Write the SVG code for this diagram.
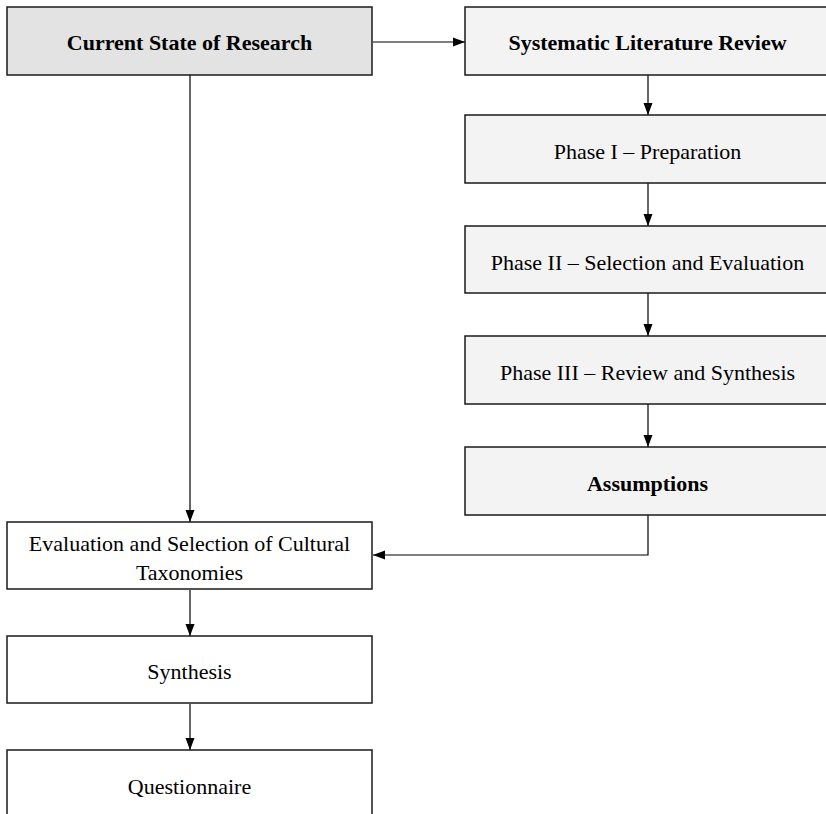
<svg xmlns="http://www.w3.org/2000/svg" width="826" height="814" viewBox="0 0 826 814">
<style>
.box{stroke:#1a1a1a;stroke-width:1.5}
.g1{fill:#e3e3e3}
.g2{fill:#f3f3f3}
.w{fill:#ffffff}
text{font-family:"Liberation Serif","Times New Roman",serif;font-size:22px;fill:#000;text-anchor:middle;dominant-baseline:central}
.b{font-weight:bold}
.c{fill:none;stroke:#000;stroke-width:1.2}
</style>
<defs>
<marker id="ah" viewBox="0 0 12 10" refX="12" refY="5" markerWidth="12" markerHeight="10" markerUnits="userSpaceOnUse" orient="auto">
<path d="M0,0.5 L12,5 L0,9.5 Z" fill="#000"/>
</marker>
</defs>
<rect width="826" height="814" fill="#fff"/>
<g id="connectors">
<path class="c" d="M373,42 H465" marker-end="url(#ah)"/>
<path class="c" d="M190,75 V522" marker-end="url(#ah)"/>
<path class="c" d="M648,75 V115" marker-end="url(#ah)"/>
<path class="c" d="M648,183 V226" marker-end="url(#ah)"/>
<path class="c" d="M648,293 V336" marker-end="url(#ah)"/>
<path class="c" d="M648,404 V447" marker-end="url(#ah)"/>
<path class="c" d="M648,515 V555 H373" marker-end="url(#ah)"/>
<path class="c" d="M190,590 V636" marker-end="url(#ah)"/>
<path class="c" d="M190,704 V750" marker-end="url(#ah)"/>
</g>
<g id="current-state">
<rect class="box g1" x="7" y="7" width="365" height="68"/>
<text class="b" x="189.5" y="42">Current State of Research</text>
</g>
<g id="slr">
<rect class="box g2" x="465" y="7" width="365" height="68"/>
<text class="b" x="647.5" y="42">Systematic Literature Review</text>
</g>
<g id="phase1">
<rect class="box g2" x="465" y="115" width="365" height="68"/>
<text x="647.5" y="151">Phase I – Preparation</text>
</g>
<g id="phase2">
<rect class="box g2" x="465" y="226" width="365" height="67"/>
<text x="647.5" y="262">Phase II – Selection and Evaluation</text>
</g>
<g id="phase3">
<rect class="box g2" x="465" y="336" width="365" height="68"/>
<text x="647.5" y="372">Phase III – Review and Synthesis</text>
</g>
<g id="assumptions">
<rect class="box g2" x="465" y="447" width="365" height="68"/>
<text class="b" x="647.5" y="483">Assumptions</text>
</g>
<g id="evaluation">
<rect class="box w" x="7" y="522" width="365" height="67"/>
<text x="189.5" y="543">Evaluation and Selection of Cultural</text>
<text x="189.5" y="572">Taxonomies</text>
</g>
<g id="synthesis">
<rect class="box w" x="7" y="636" width="365" height="67"/>
<text x="189.5" y="671">Synthesis</text>
</g>
<g id="questionnaire">
<rect class="box w" x="7" y="750" width="365" height="68"/>
<text x="189.5" y="786">Questionnaire</text>
</g>
</svg>
